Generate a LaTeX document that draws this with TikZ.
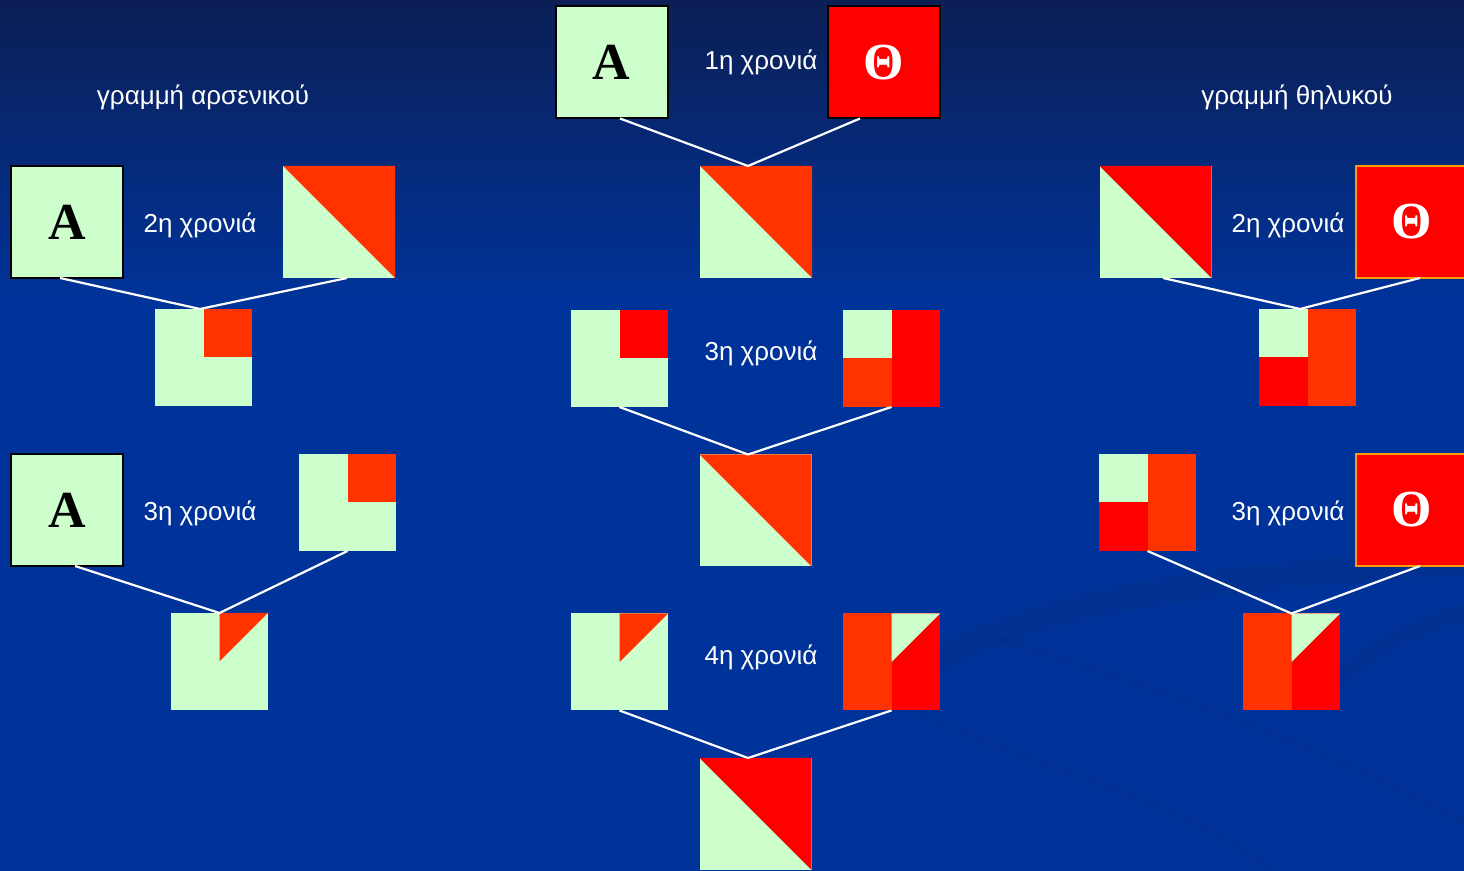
\documentclass[tikz,border=0pt]{standalone}
\usepackage{fontspec}
\setmainfont{Liberation Sans}
\newfontfamily\letterfont{Liberation Serif}
\usetikzlibrary{positioning}
\definecolor{leaf}{HTML}{CCFFCC}
\definecolor{flame}{HTML}{FF3300}
\definecolor{scarlet}{HTML}{FF0000}
\definecolor{amber}{HTML}{FF9900}
\definecolor{navytop}{HTML}{0B1F55}
\definecolor{navybot}{HTML}{003399}
\newcommand{\ppbb}{path picture bounding box}

\begin{document}
\begin{tikzpicture}[
    x=0.5pt, y=-0.5pt,
    sq/.style={rectangle, inner sep=0pt, outer sep=0pt, minimum size=48.5pt},
    big/.style={sq, minimum size=56pt},
    male/.style={big, fill=leaf, draw=black, line width=1pt, text=black,
        font=\letterfont\bfseries\fontsize{26}{26}\selectfont},
    female/.style={big, fill=scarlet, draw=#1, line width=1pt, text=white,
        font=\letterfont\bfseries\fontsize{26}{26}\selectfont},
    % colour patterns of the offspring squares
    diagsq/.style={fill=leaf, path picture={
        \fill[#1] (\ppbb.north west) -- (\ppbb.north east) -- (\ppbb.south east) -- cycle;}},
    quartsq/.style={fill=leaf, path picture={
        \fill[#1] (\ppbb.north) rectangle (\ppbb.east);}},
    trisq/.style={fill=leaf, path picture={
        \fill[#1] (\ppbb.north) -- (\ppbb.north east) -- (\ppbb.center) -- cycle;}},
    mixsq/.style 2 args={fill=#1, path picture={
        \fill[leaf] (\ppbb.north west) rectangle (\ppbb.center);
        \fill[#2] (\ppbb.north) rectangle (\ppbb.south east);}},
    splitsq/.style={fill=flame, path picture={
        \fill[scarlet] (\ppbb.north) rectangle (\ppbb.south east);
        \fill[leaf] (\ppbb.north) -- (\ppbb.north east) -- (\ppbb.center) -- cycle;}},
    year/.style={text=white, font=\fontsize{13}{15}\selectfont},
    link/.style={white, line width=1.1pt},
    swoosh/.style={navytop, opacity=0.08, line width=#1, line cap=round}
]
    \useasboundingbox (0,0) rectangle (1464,871);
    \clip (0,0) rectangle (1464,871);

    % background
    \fill[navybot] (0,0) rectangle (1464,871);
    \shade[top color=navytop, bottom color=navybot] (0,0) rectangle (1464,300);
    \draw[swoosh=14pt] (940,660) .. controls (1050,595) and (1250,575) .. (1480,560);
    \draw[swoosh=10pt] (1320,700) .. controls (1360,650) and (1420,620) .. (1480,612);
    \draw[swoosh=4pt] (905,705) .. controls (1000,760) and (1200,800) .. (1280,880);
    \draw[swoosh=4pt] (1000,640) .. controls (1200,700) and (1350,760) .. (1480,830);

    % headings
    \node[year] (mhead) at (203,97) {γραμμή αρσενικού};
    \node[year] (fhead) at (1297,97) {γραμμή θηλυκού};

    % 1st year
    \node[male] (tA) at (611.5,62.5) {A};
    \node[female=black] (tT) at (883.5,62.5) {Θ};
    \node[year] (y1) at (761,62) {1η χρονιά};
    \node[big, diagsq=flame] (c1) at (756,222) {};
    \draw[link] ([xshift=4.25pt]tA.south) -- ([xshift=-4pt]c1.north) -- ([xshift=-11.75pt]tT.south);

    % male line
    \node[male] (lA2) at (67,222) {A};
    \node[big, diagsq=flame] (lP2) at (339,222) {};
    \node[year] (l2) at (200,225) {2η χρονιά};
    \node[sq, quartsq=flame] (lC2) at (203.5,357.5) {};
    \draw[link] ([xshift=-3.5pt]lA2.south) -- ([xshift=-1.75pt]lC2.north) -- ([xshift=4pt]lP2.south);

    \node[male] (lA3) at (67,510) {A};
    \node[sq, quartsq=flame] (lP3) at (347.5,502.5) {};
    \node[year] (l3) at (200,513) {3η χρονιά};
    \node[sq, trisq=flame] (lC3) at (219.5,661.5) {};
    \draw[link] ([xshift=4pt]lA3.south) -- (lC3.north) -- (lP3.south);

    % centre line
    \node[sq, quartsq=scarlet] (mL3) at (619.5,358.5) {};
    \node[sq, mixsq={flame}{scarlet}] (mR3) at (891.5,358.5) {};
    \node[year] (m3) at (761,353) {3η χρονιά};
    \node[big, diagsq=flame] (c3) at (755.5,510.5) {};
    \draw[link] (mL3.south) -- ([xshift=-3.75pt]c3.north) -- (mR3.south);

    \node[sq, trisq=flame] (mL4) at (619.5,662) {};
    \node[sq, splitsq] (mR4) at (891.5,662) {};
    \node[year] (m4) at (761,657) {4η χρονιά};
    \node[big, diagsq=scarlet] (c4) at (755.5,814) {};
    \draw[link] (mL4.south) -- ([xshift=-3.75pt]c4.north) -- (mR4.south);

    % female line
    \node[big, diagsq=scarlet] (rP2) at (1155.5,222) {};
    \node[female=amber] (rT2) at (1412,222) {Θ};
    \node[year] (r2) at (1288,225) {2η χρονιά};
    \node[sq, mixsq={scarlet}{flame}] (rC2) at (1307.5,357.5) {};
    \draw[link] ([xshift=3.75pt]rP2.south) -- ([xshift=-3.75pt]rC2.north) -- ([xshift=4pt]rT2.south);

    \node[sq, mixsq={scarlet}{flame}] (rP3) at (1147.5,502.5) {};
    \node[female=amber] (rT3) at (1412,510) {Θ};
    \node[year] (r3) at (1288,513) {3η χρονιά};
    \node[sq, splitsq] (rC3) at (1291.5,662) {};
    \draw[link] (rP3.south) -- (rC3.north) -- ([xshift=4pt]rT3.south);
\end{tikzpicture}
\end{document}
